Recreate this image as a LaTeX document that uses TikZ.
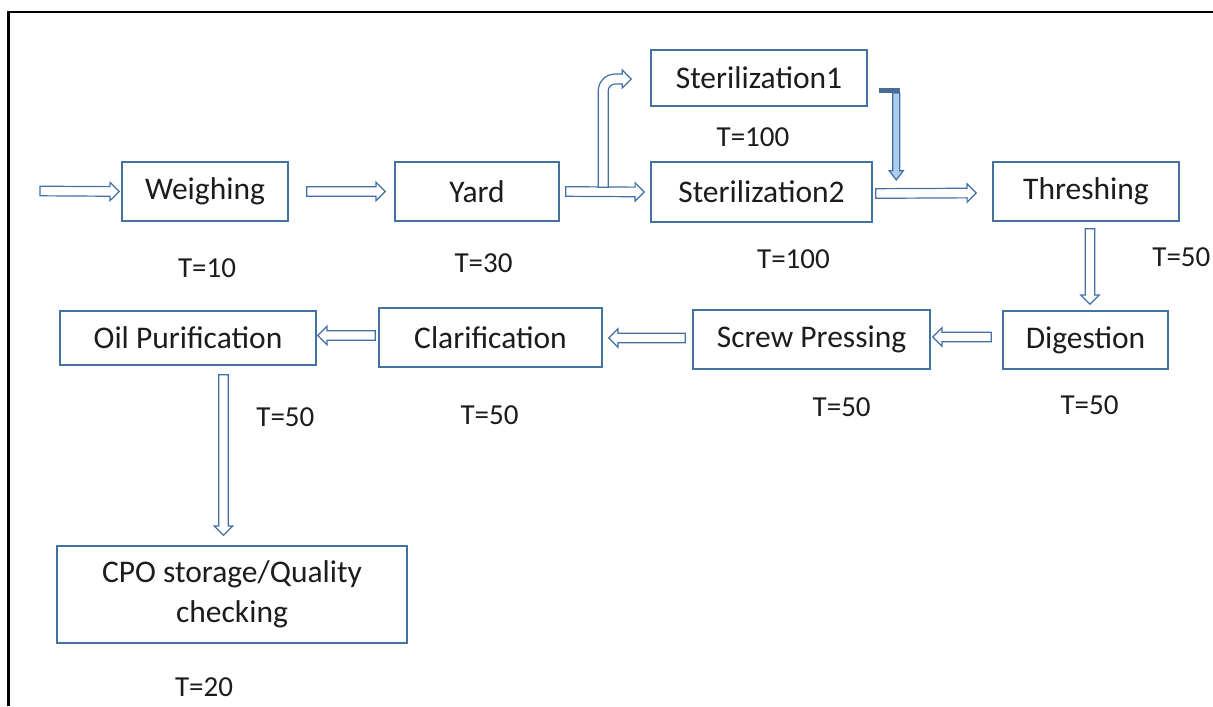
\documentclass[tikz,border=0pt]{standalone}
\usepackage{fontspec}
\setmainfont{Carlito}
\usetikzlibrary{calc}

\definecolor{boxblue}{RGB}{68,114,160}
\definecolor{arrowblue}{RGB}{66,112,166}
\definecolor{lightfill}{RGB}{172,205,236}
\definecolor{barblue}{RGB}{72,108,148}
\definecolor{inktext}{RGB}{28,28,28}

% half shaft width, half head width, head length (pt)
\def\bashw{2.4}
\def\bahw{4.6}
\def\bahl{4.6}

% hollow block arrow from #2 to the tip #3
\newcommand\blockarrow[3][]{%
  \draw[arrowline,#1] let \p1=(#2), \p2=(#3),
      \n1={veclen(\x2-\x1,\y2-\y1)},
      \n2={(\x2-\x1)/\n1}, \n3={(\y2-\y1)/\n1} in
    ({\x1-\bashw*\n3},{\y1+\bashw*\n2})
    -- ({\x2-\bahl*\n2-\bashw*\n3},{\y2-\bahl*\n3+\bashw*\n2})
    -- ({\x2-\bahl*\n2-\bahw*\n3},{\y2-\bahl*\n3+\bahw*\n2})
    -- (\p2)
    -- ({\x2-\bahl*\n2+\bahw*\n3},{\y2-\bahl*\n3-\bahw*\n2})
    -- ({\x2-\bahl*\n2+\bashw*\n3},{\y2-\bahl*\n3-\bashw*\n2})
    -- ({\x1+\bashw*\n3},{\y1-\bashw*\n2}) -- cycle;}

\begin{document}
\begin{tikzpicture}[x=0.5pt,y=-0.5pt,
  stepbox/.style={draw=boxblue,line width=0.75pt,fill=white,inner sep=0pt,
    text=inktext,font=\fontsize{15.75}{19}\selectfont},
  tlabel/.style={text=inktext,inner sep=0pt,font=\fontsize{14.5}{17}\selectfont},
  arrowline/.style={draw=arrowblue,line width=0.6pt,fill=white,line join=miter},
  frame/.style={draw=black,line width=1.25pt,line join=miter}]

\useasboundingbox (0,0) rectangle (1213,706);
\draw[frame] (8.5,706) -- (8.5,12) -- (1213,12);

% process steps
\node[stepbox,minimum width=83pt,minimum height=29.5pt] (weigh) at (205,191.5) {Weighing};
\node[stepbox,minimum width=82pt,minimum height=29.5pt] (yard) at (477,191.5) {Yard};
\node[stepbox,minimum width=108pt,minimum height=28pt] (ster1) at (759,78) {Sterilization1};
\node[stepbox,minimum width=110.5pt,minimum height=30pt] (ster2) at (761.5,192) {Sterilization2};
\node[stepbox,minimum width=93pt,minimum height=29.5pt] (thresh) at (1086,191.5) {Threshing};
\node[stepbox,minimum width=82.5pt,minimum height=29pt] (dig) at (1085.5,340) {Digestion};
\node[stepbox,minimum width=118.5pt,minimum height=29.5pt] (screw) at (811.5,339.5) {Screw Pressing};
\node[stepbox,minimum width=111.5pt,minimum height=29.5pt] (clar) at (490.5,337.5) {Clarification};
\node[stepbox,minimum width=128pt,minimum height=27pt] (oil) at (188,338) {Oil Purification};
\node[stepbox,minimum width=175pt,minimum height=48.5pt,align=center,
  font=\fontsize{15.75}{20}\selectfont] (cpo) at (232,594.5) {CPO storage/Quality\\checking};

% processing times
\node[tlabel] (t1) at (207,268) {T=10};
\node[tlabel] (t2) at (483.5,263) {T=30};
\node[tlabel] (t3) at (753,137) {T=100};
\node[tlabel] (t4) at (793.5,259) {T=100};
\node[tlabel,anchor=west] (t5) at (1152,257) {T=50};
\node[tlabel] (t6) at (1089.5,405) {T=50};
\node[tlabel] (t7) at (841.7,406.7) {T=50};
\node[tlabel] (t8) at (489.5,415) {T=50};
\node[tlabel] (t9) at (285.4,417) {T=50};
\node[tlabel] (t10) at (204,687) {T=20};

% connector end points
\coordinate (in) at (40,191);
\coordinate (split) at ($(yard.east)!0.48!(ster2.west)+(0,-4.5)$);
\coordinate (s1tip) at ($(ster1.west)+(-19,1)$);
\coordinate (s1out) at ($(ster1.east)+(28.5,15)$);
\coordinate (s2in) at ($(s1out |- ster2.center)+(0,-12)$);

% flow arrows
\blockarrow{in}{$(weigh.west)+(-2,0)$}
\blockarrow{$(weigh.east)+(18,0)$}{$(yard.west)+(-9,0)$}
\blockarrow{$(yard.east)+(6,0)$}{$(ster2.west)+(-6,0)$}

% branch up to Sterilization1
\draw[arrowline] let \p1=(split), \p2=(s1tip) in
  ({\x1-2.5pt},\y1) -- ({\x1-2.5pt},{\y2-6pt})
  arc[start angle=180,end angle=90,radius=8.5pt]
  -- ({\x2-4.5pt},{\y2+2.5pt}) -- ({\x2-4.5pt},{\y2+4.5pt}) -- (\p2)
  -- ({\x2-4.5pt},{\y2-4.5pt}) -- ({\x2-4.5pt},{\y2-2.5pt})
  -- ({\x1+6pt},{\y2-2.5pt})
  arc[start angle=90,end angle=180,radius=3.5pt]
  -- ({\x1+2.5pt},\y1) -- cycle;

% Sterilization1 back into the line
\fill[barblue] ($(s1out)+(-17.5,-5)$) rectangle ($(s1out)+(3.5,0)$);
{\def\bashw{1.75}\def\bahw{3.5}
 \blockarrow[fill=lightfill]{s1out}{s2in}}

\blockarrow{$(ster2.east)+(3,1.5)$}{$(thresh.west)+(-16,1.5)$}
\blockarrow{$(thresh.south)+(4,7)$}{$(dig.north)+(4.5,-6)$}
\blockarrow{$(dig.west)+(-11,-3)$}{$(screw.east)+(2,-2.5)$}
\blockarrow{$(screw.west)+(-7,-1.5)$}{$(clar.east)+(6,0.5)$}
\blockarrow{$(clar.west)+(-3,-2)$}{$(oil.east)+(1,-2.5)$}
\blockarrow{$(oil.south)+(35.5,9)$}{$(cpo.north)+(-8.5,-10)$}
\end{tikzpicture}
\end{document}
